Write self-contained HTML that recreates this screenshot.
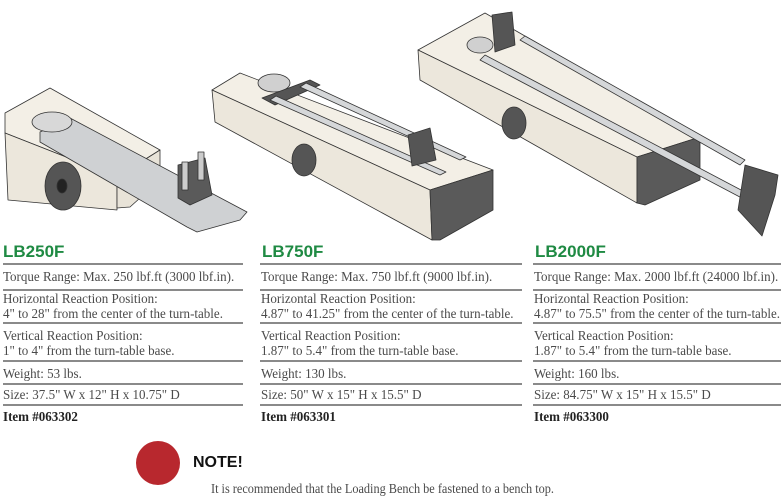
<!DOCTYPE html>
<html><head><meta charset="utf-8"><style>
body{margin:0;width:783px;height:495px;background:#fff;position:relative;overflow:hidden;font-family:"Liberation Serif",serif;color:#4a4a4a}
.t{position:absolute;font-size:14px;white-space:nowrap;transform-origin:0 0;transform:scaleX(0.93);line-height:15px}
.h{position:absolute;font-family:"Liberation Sans",sans-serif;font-weight:bold;color:#1f8a43;font-size:17px;line-height:18px}
.l{position:absolute;height:2px;background:#8a8a8a}
.b{font-weight:bold;color:#222}
</style></head><body>
<svg width="783" height="250" style="position:absolute;left:0;top:0" stroke="#333" stroke-width="0.8" stroke-linejoin="round">
<polygon points="5,113 50,88 160,150 117,177 5,133" fill="#f3efe6"/>
<polygon points="5,133 117,177 117,210 8,200" fill="#ece7dc"/>
<polygon points="117,177 160,150 160,180 130,207 117,208" fill="#e8e3d8"/>
<polygon points="40,132 70,118 247,212 240,220 197,232 187,227 40,142" fill="#cfd1d3"/>
<ellipse cx="52" cy="122" rx="20" ry="10" fill="#d8d8d8"/>
<ellipse cx="63" cy="186" rx="18" ry="24" fill="#555"/>
<ellipse cx="62" cy="186" rx="5" ry="7" fill="#222"/>
<polygon points="178,165 205,158 212,195 190,205 178,198" fill="#5a5a5a"/>
<rect x="182" y="162" width="6" height="28" fill="#ccc"/><rect x="198" y="152" width="6" height="28" fill="#ccc"/>
<polygon points="212,90 240,73 493,170 430,190" fill="#f3efe6"/>
<polygon points="212,90 430,190 432,240 215,122" fill="#ece7dc"/>
<polygon points="430,190 493,170 493,210 440,240 432,240" fill="#5a5a5a"/>
<ellipse cx="274" cy="83" rx="16" ry="9" fill="#d0d0d0"/>
<polygon points="262,98 310,80 320,85 275,105" fill="#555"/>
<polygon points="270,100 440,175 446,172 276,96" fill="#d5d7d9"/>
<polygon points="300,87 460,160 466,157 306,83" fill="#d5d7d9"/>
<polygon points="408,135 430,128 436,160 412,166" fill="#555"/>
<ellipse cx="304" cy="160" rx="12" ry="16" fill="#555"/>
<polygon points="418,50 485,13 700,137 637,157" fill="#f3efe6"/>
<polygon points="418,50 637,157 637,203 420,80" fill="#ece7dc"/>
<polygon points="637,157 700,137 700,180 645,205 637,203" fill="#5a5a5a"/>
<ellipse cx="480" cy="45" rx="13" ry="8" fill="#d0d0d0"/>
<polygon points="492,15 512,12 515,45 495,52" fill="#555"/>
<polygon points="480,60 755,205 760,200 485,55" fill="#d5d7d9"/>
<polygon points="520,40 740,165 745,160 525,36" fill="#d5d7d9"/>
<polygon points="745,165 778,175 775,195 762,236 738,210" fill="#555"/>
<ellipse cx="514" cy="123" rx="12" ry="16" fill="#555"/>
</svg>

<div class="h" style="left:3px;top:243px">LB250F</div>
<div class="h" style="left:262px;top:243px">LB750F</div>
<div class="h" style="left:535px;top:243px">LB2000F</div>

<div class="l" style="left:3px;width:240px;top:263px"></div>
<div class="l" style="left:260px;width:262px;top:263px"></div>
<div class="l" style="left:533px;width:248px;top:263px"></div>
<div class="l" style="left:3px;width:240px;top:289px"></div>
<div class="l" style="left:260px;width:262px;top:289px"></div>
<div class="l" style="left:533px;width:248px;top:289px"></div>
<div class="l" style="left:3px;width:240px;top:322px"></div>
<div class="l" style="left:260px;width:262px;top:322px"></div>
<div class="l" style="left:533px;width:248px;top:322px"></div>
<div class="l" style="left:3px;width:240px;top:360px"></div>
<div class="l" style="left:260px;width:262px;top:360px"></div>
<div class="l" style="left:533px;width:248px;top:360px"></div>
<div class="l" style="left:3px;width:240px;top:383px"></div>
<div class="l" style="left:260px;width:262px;top:383px"></div>
<div class="l" style="left:533px;width:248px;top:383px"></div>
<div class="l" style="left:3px;width:240px;top:404px"></div>
<div class="l" style="left:260px;width:262px;top:404px"></div>
<div class="l" style="left:533px;width:248px;top:404px"></div>

<div class="t" style="left:3px;top:270px">Torque Range: Max. 250 lbf.ft (3000 lbf.in).</div>
<div class="t" style="left:3px;top:292px">Horizontal Reaction Position:<br>4" to 28" from the center of the turn-table.</div>
<div class="t" style="left:3px;top:329px">Vertical Reaction Position:<br>1" to 4" from the turn-table base.</div>
<div class="t" style="left:3px;top:367px">Weight: 53 lbs.</div>
<div class="t" style="left:3px;top:388px">Size: 37.5" W x 12" H x 10.75" D</div>
<div class="t b" style="left:3px;top:410px">Item #063302</div>

<div class="t" style="left:261px;top:270px">Torque Range: Max. 750 lbf.ft (9000 lbf.in).</div>
<div class="t" style="left:261px;top:292px">Horizontal Reaction Position:<br>4.87" to 41.25" from the center of the turn-table.</div>
<div class="t" style="left:261px;top:329px">Vertical Reaction Position:<br>1.87" to 5.4" from the turn-table base.</div>
<div class="t" style="left:261px;top:367px">Weight: 130 lbs.</div>
<div class="t" style="left:261px;top:388px">Size: 50" W x 15" H x 15.5" D</div>
<div class="t b" style="left:261px;top:410px">Item #063301</div>

<div class="t" style="left:534px;top:270px">Torque Range: Max. 2000 lbf.ft (24000 lbf.in).</div>
<div class="t" style="left:534px;top:292px">Horizontal Reaction Position:<br>4.87" to 75.5" from the center of the turn-table.</div>
<div class="t" style="left:534px;top:329px">Vertical Reaction Position:<br>1.87" to 5.4" from the turn-table base.</div>
<div class="t" style="left:534px;top:367px">Weight: 160 lbs.</div>
<div class="t" style="left:534px;top:388px">Size: 84.75" W x 15" H x 15.5" D</div>
<div class="t b" style="left:534px;top:410px">Item #063300</div>

<div style="position:absolute;left:136px;top:441px;width:44px;height:44px;border-radius:50%;background:#b8282e"></div>
<div style="position:absolute;left:193px;top:454px;font-family:'Liberation Sans',sans-serif;font-weight:bold;font-size:16px;color:#111">NOTE!</div>
<div class="t" style="left:211px;top:481px;font-size:13.2px">It is recommended that the Loading Bench be fastened to a bench top.</div>
</body></html>
